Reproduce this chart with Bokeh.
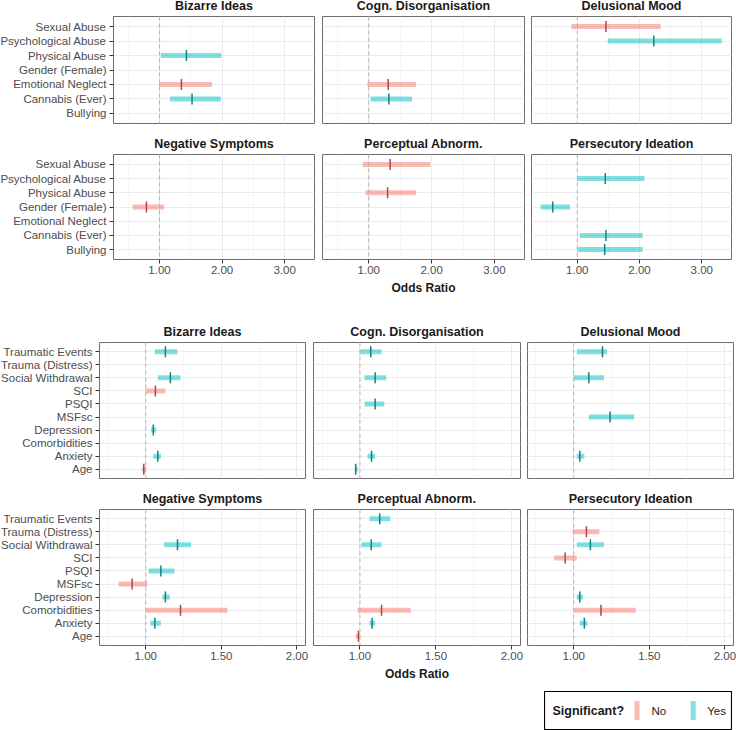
import numpy as np
import pandas as pd
from bokeh.plotting import figure
from bokeh.models import ColumnDataSource, FactorRange, Range1d, FixedTicker, Span, Spacer, NumeralTickFormatter
from bokeh.layouts import row, column
from bokeh.embed import file_html
from bokeh.resources import INLINE
from bokeh.core.properties import value

FONT = "Liberation Sans"

outcomes = ["Bizarre Ideas", "Cogn. Disorganisation", "Delusional Mood",
            "Negative Symptoms", "Perceptual Abnorm.", "Persecutory Ideation"]

# ---- top group ----
top_predictors = ["Sexual Abuse", "Psychological Abuse", "Physical Abuse", "Gender (Female)",
                  "Emotional Neglect", "Cannabis (Ever)", "Bullying"]
top_outcome = ["Bizarre Ideas", "Bizarre Ideas", "Bizarre Ideas",
               "Cogn. Disorganisation", "Cogn. Disorganisation",
               "Delusional Mood", "Delusional Mood",
               "Negative Symptoms",
               "Perceptual Abnorm.", "Perceptual Abnorm.",
               "Persecutory Ideation", "Persecutory Ideation", "Persecutory Ideation", "Persecutory Ideation"]
top_predictor = ["Physical Abuse", "Emotional Neglect", "Cannabis (Ever)",
                 "Emotional Neglect", "Cannabis (Ever)",
                 "Sexual Abuse", "Psychological Abuse",
                 "Gender (Female)",
                 "Sexual Abuse", "Physical Abuse",
                 "Psychological Abuse", "Gender (Female)", "Cannabis (Ever)", "Bullying"]
top_or = [1.43, 1.35, 1.52, 1.31, 1.32, 1.46, 2.23, 0.79, 1.34, 1.30, 1.45, 0.605, 1.46, 1.44]
top_lo = [1.02, 0.99, 1.165, 0.98, 1.03, 0.905, 1.49, 0.57, 0.905, 0.95, 1.00, 0.41, 1.04, 1.01]
top_hi = [1.99, 1.84, 1.98, 1.75, 1.69, 2.34, 3.32, 1.075, 1.98, 1.75, 2.08, 0.885, 2.05, 2.05]
top_sig = ["Yes", "No", "Yes", "No", "Yes", "No", "Yes", "No", "No", "No", "Yes", "Yes", "Yes", "Yes"]
top_ticks = [1.0, 2.0, 3.0]
top_minor = [0.5, 1.5, 2.5, 3.5]
top_xlim = (0.264, 3.478)

# ---- bottom group ----
bot_predictors = ["Traumatic Events", "Trauma (Distress)", "Social Withdrawal", "SCI", "PSQI",
                  "MSFsc", "Depression", "Comorbidities", "Anxiety", "Age"]
bot_outcome = (["Bizarre Ideas"] * 6 + ["Cogn. Disorganisation"] * 5 + ["Delusional Mood"] * 4
               + ["Negative Symptoms"] * 6 + ["Perceptual Abnorm."] * 5 + ["Persecutory Ideation"] * 6)
bot_predictor = ["Traumatic Events", "Social Withdrawal", "SCI", "Depression", "Anxiety", "Age",
                 "Traumatic Events", "Social Withdrawal", "PSQI", "Anxiety", "Age",
                 "Traumatic Events", "Social Withdrawal", "MSFsc", "Anxiety",
                 "Social Withdrawal", "PSQI", "MSFsc", "Depression", "Comorbidities", "Anxiety",
                 "Traumatic Events", "Social Withdrawal", "Comorbidities", "Anxiety", "Age",
                 "Trauma (Distress)", "Social Withdrawal", "SCI", "Depression", "Comorbidities", "Anxiety"]
bot_or = [1.13, 1.163, 1.064, 1.05, 1.08, 0.987,
          1.071, 1.10, 1.10, 1.076, 0.972,
          1.19, 1.10, 1.24, 1.04,
          1.21, 1.10, 0.91, 1.13, 1.23, 1.06,
          1.13, 1.074, 1.142, 1.08, 0.99,
          1.084, 1.11, 0.943, 1.04, 1.18, 1.07]
bot_lo = [1.06, 1.08, 1.00, 1.035, 1.05, 0.974,
          1.00, 1.03, 1.03, 1.05, 0.965,
          1.02, 1.00, 1.10, 1.02,
          1.12, 1.02, 0.82, 1.11, 1.00, 1.03,
          1.063, 1.01, 0.985, 1.063, 0.972,
          0.993, 1.02, 0.87, 1.02, 1.00, 1.04]
bot_hi = [1.21, 1.23, 1.13, 1.069, 1.10, 1.003,
          1.142, 1.173, 1.16, 1.10, 0.985,
          1.22, 1.20, 1.40, 1.07,
          1.30, 1.19, 1.01, 1.16, 1.54, 1.10,
          1.20, 1.142, 1.334, 1.10, 1.003,
          1.17, 1.20, 1.02, 1.06, 1.41, 1.09]
bot_sig = ["Yes", "Yes", "No", "Yes", "Yes", "No",
           "Yes", "Yes", "Yes", "Yes", "Yes",
           "Yes", "Yes", "Yes", "Yes",
           "Yes", "Yes", "No", "Yes", "No", "Yes",
           "Yes", "Yes", "No", "Yes", "No",
           "No", "Yes", "No", "Yes", "No", "Yes"]
bot_ticks = [1.0, 1.5, 2.0]
bot_minor = [0.75, 1.25, 1.75]
bot_xlim = (0.694, 2.057)

sig_levels = ["No", "Yes"]
bar_colors = {"No": "#F8766D", "Yes": "#00BFC4"}
tick_colors = {"No": "#A84A45", "Yes": "#16807F"}

top_df = pd.DataFrame(dict(outcome=top_outcome, predictor=top_predictor, OR=top_or,
                           lo=top_lo, hi=top_hi, sig=top_sig))
bot_df = pd.DataFrame(dict(outcome=bot_outcome, predictor=bot_predictor, OR=bot_or,
                           lo=bot_lo, hi=bot_hi, sig=bot_sig))
for d in (top_df, bot_df):
    d["bar_color"] = d["sig"].map(bar_colors)
    d["tick_color"] = d["sig"].map(tick_colors)


def make_panel(df, outcome, predictors, xlim, ticks, minor, frame_w, frame_h,
               left, right, top, bottom, show_x, show_y, show_xlabel):
    p = figure(frame_width=frame_w, frame_height=frame_h,
               x_range=Range1d(*xlim),
               y_range=FactorRange(factors=list(reversed(predictors)),
                                   range_padding=0.2, range_padding_units="absolute"),
               x_axis_location="below" if show_x else None,
               y_axis_location="left" if show_y else None,
               output_backend="svg", toolbar_location=None,
               min_border_left=left, min_border_right=right,
               min_border_top=top, min_border_bottom=bottom,
               title=outcome)
    p.title.align = "center"
    p.title.text_font = FONT
    p.title.text_font_size = "12.5px"
    p.title.text_font_style = "bold"
    p.title.text_color = "#1a1a1a"
    p.title.standoff = 8
    p.title.offset = 0
    p.background_fill_color = "white"
    p.border_fill_color = "white"
    p.outline_line_color = "#6e6e6e"
    p.outline_line_width = 1

    tk = FixedTicker(ticks=ticks, minor_ticks=minor)
    p.xgrid.ticker = tk
    p.xgrid.grid_line_color = "#ebebeb"
    p.xgrid.grid_line_width = 1
    p.xgrid.minor_grid_line_color = "#f3f3f3"
    p.xgrid.minor_grid_line_width = 0.7
    p.ygrid.grid_line_color = "#ebebeb"
    p.ygrid.grid_line_width = 1

    if show_x:
        ax = p.xaxis[0]
        ax.ticker = tk
        ax.formatter = NumeralTickFormatter(format="0.00")
        ax.axis_line_color = None
        ax.major_tick_in = 0
        ax.major_tick_out = 4
        ax.major_tick_line_color = "#333333"
        ax.minor_tick_line_color = None
        ax.major_label_text_font = FONT
        ax.major_label_text_font_size = "11.5px"
        ax.major_label_text_color = "#4d4d4d"
        ax.major_label_standoff = 2
        if show_xlabel:
            ax.axis_label = "Odds Ratio"
            ax.axis_label_text_font = FONT
            ax.axis_label_text_font_size = "12px"
            ax.axis_label_text_font_style = "bold"
            ax.axis_label_text_color = "#1a1a1a"
            ax.axis_label_standoff = 4
    if show_y:
        ay = p.yaxis[0]
        ay.axis_line_color = None
        ay.major_tick_in = 0
        ay.major_tick_out = 4
        ay.major_tick_line_color = "#333333"
        ay.minor_tick_line_color = None
        ay.major_label_text_font = FONT
        ay.major_label_text_font_size = "11.5px"
        ay.major_label_text_color = "#4d4d4d"
        ay.major_label_standoff = 3

    p.add_layout(Span(location=1.0, dimension="height", line_color="#b3b3b3",
                      line_dash="4 3", line_width=1))

    sub = df[df["outcome"] == outcome]
    src = ColumnDataSource(sub)
    p.segment(x0="lo", x1="hi", y0="predictor", y1="predictor", source=src,
              line_color="bar_color", line_alpha=0.5, line_width=5, line_cap="butt")
    p.scatter(x="OR", y="predictor", source=src, marker="dash", angle=np.pi / 2,
              size=11, line_color="tick_color", line_width=1.5)
    return p


def group(df, predictors, xlim, ticks, minor, frame_ws, lefts, rights, frame_h,
          top1, top2, bottom2):
    rows = []
    for r in range(2):
        figs = []
        for c in range(3):
            o = outcomes[r * 3 + c]
            figs.append(make_panel(df, o, predictors, xlim, ticks, minor,
                                   frame_ws[c], frame_h[r], lefts[c], rights[c],
                                   top1 if r == 0 else top2,
                                   2 if r == 0 else bottom2,
                                   show_x=(r == 1), show_y=(c == 0),
                                   show_xlabel=(r == 1 and c == 1)))
        rows.append(row(*figs, spacing=0))
    return column(*rows, spacing=0)


g_top = group(top_df, top_predictors, top_xlim, top_ticks, top_minor,
              [201, 202, 200], [114, 4, 4], [4, 3, 4], [107, 105], 24, 29, 40)
g_bot = group(bot_df, bot_predictors, bot_xlim, bot_ticks, bot_minor,
              [206, 207, 206], [99, 4, 4], [4, 3, 3], [136, 136], 43, 29, 40)

# ---- legend ----
leg = figure(width=188, height=39, x_range=Range1d(0, 188), y_range=Range1d(0, 39),
             output_backend="svg", toolbar_location=None, min_border=0,
             x_axis_location=None, y_axis_location=None)
leg.xgrid.visible = False
leg.ygrid.visible = False
leg.outline_line_color = "black"
leg.outline_line_width = 1.2
leg_src = ColumnDataSource(dict(x=[92.5, 148.7], y=[20, 20], c=[bar_colors[s] for s in sig_levels]))
leg.rect(x="x", y="y", width=5, height=19, source=leg_src, fill_color="c", fill_alpha=0.5, line_color=None)
leg.text(x=[8], y=[19.5], text=["Significant?"], text_font=value(FONT), text_font_size="12.5px",
         text_font_style="bold", text_baseline="middle", text_color="#1a1a1a")
leg.text(x=[107, 162.7], y=[19.5, 19.5], text=sig_levels, text_font=value(FONT), text_font_size="11.5px",
         text_baseline="middle", text_color="#1a1a1a")

legend_row = row(Spacer(width=547, height=39), leg, spacing=0)

root = column(g_top, g_bot, Spacer(width=10, height=6), legend_row, spacing=0, margin=(-8, 0, 0, -3))

open("out.html", "w").write(file_html(root, INLINE))
